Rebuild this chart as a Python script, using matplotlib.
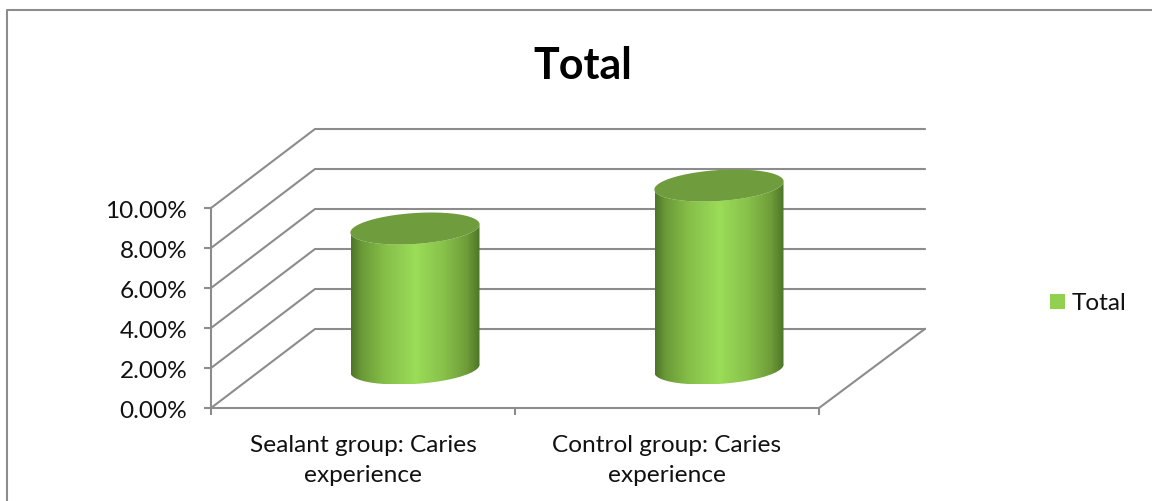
import numpy as np
from matplotlib import pyplot as plt
from matplotlib.patches import PathPatch, Rectangle
from matplotlib.path import Path
from matplotlib.colors import LinearSegmentedColormap

categories = ['Sealant group: Caries\nexperience', 'Control group: Caries\nexperience']
values = [7.0, 9.15]
y_ticks = [0, 2, 4, 6, 8, 10]
series_name = 'Total'

W, H = 1152, 502
GRAY = '#8c8c8c'
# oblique projection of the depth axis, in data units
DEPTH_X = 104 / 304
DEPTH_Y = 79 / 20

plt.rcParams['font.family'] = ['Lato', 'DejaVu Sans']

fig = plt.figure(figsize=(W / 100, H / 100), dpi=100)
ax = fig.add_axes([211 / W, 1 - 409 / H, 608 / W, 200 / H])
ax.set_xlim(0, 2)
ax.set_ylim(0, 10)
ax.patch.set_visible(False)

for s in ['top', 'right']:
    ax.spines[s].set_visible(False)
for s in ['left', 'bottom']:
    ax.spines[s].set_color(GRAY)
    ax.spines[s].set_linewidth(1.5)

ax.set_yticks(y_ticks)
ax.set_yticklabels(['%.2f%%' % v for v in y_ticks], fontsize=17.6, color='#111111')
ax.set_xticks([0, 1, 2])
ax.set_xticklabels([])
ax.set_xticks([0.5, 1.5], categories, minor=True, fontsize=17.6, color='#111111', linespacing=1.5)
ax.tick_params(axis='y', length=5, width=1.5, color=GRAY, pad=12)
ax.tick_params(axis='x', which='major', length=5, width=1.5, color=GRAY)
ax.tick_params(axis='x', which='minor', length=0, pad=19)


def project(x, v, d):
    return x + d * DEPTH_X, v + d * DEPTH_Y


# walls and floor
for v in y_ticks:
    bx, by = project(0, v, 1)
    ex, ey = project(2.006, v, 1)
    ax.plot([0, bx, ex], [v, by, ey], color=GRAY, lw=1.5, clip_on=False, zorder=1)
fx, fy = project(2.006, 0, 1)
ax.plot([2, fx], [0, fy], color=GRAY, lw=1.5, clip_on=False, zorder=1)

# cylinders
HALF_W = 64.5 / 304
U = np.array([HALF_W, 0.25])
V = np.array([-0.013, 0.76])
shade = LinearSegmentedColormap.from_list('shade', [
    (0.0, '#4d7526'), (0.08, '#6a9a38'), (0.25, '#85bc48'), (0.5, '#9bdc58'),
    (0.72, '#88c14a'), (0.9, '#6f9d3a'), (1.0, '#4d7526')])


def ellipse(cx, cy, t):
    return (cx + np.cos(t) * U[0] + np.sin(t) * V[0],
            cy + np.cos(t) * U[1] + np.sin(t) * V[1])


for i, val in enumerate(values):
    cx, cy0 = project(i + 0.5, 0, 0.5)
    cy1 = cy0 + val

    # front half of the base, then back up along the top
    t = np.linspace(np.pi, 2 * np.pi, 80)
    bx, by = ellipse(cx, cy0, t)
    tx, ty = ellipse(cx, cy1, t[::-1])
    body = np.column_stack([np.r_[bx, tx], np.r_[by, ty]])
    patch = PathPatch(Path(np.vstack([body, body[:1]])), fc='none', ec='none', zorder=3, clip_on=False)
    ax.add_patch(patch)
    grad = np.linspace(0, 1, 256).reshape(1, -1)
    im = ax.imshow(grad, cmap=shade, aspect='auto', zorder=3, interpolation='bilinear',
                   extent=[cx - HALF_W, cx + HALF_W, by.min(), cy1 + U[1]])
    im.set_clip_box(fig.bbox)
    im.set_clip_path(patch)

    t = np.linspace(0, 2 * np.pi, 160)
    ex, ey = ellipse(cx, cy1, t)
    ax.fill(ex, ey, color='#6f9c3c', lw=0, zorder=4, clip_on=False)

ax.set_xlim(0, 2)
ax.set_ylim(0, 10)

# chart frame, cut off by the image at right and bottom
fig.add_artist(plt.Line2D([7 / W, 7 / W, 1], [0, 1 - 11 / H, 1 - 11 / H], color=GRAY, lw=1.5))

fig.text(583 / W, 1 - 66 / H, series_name, fontsize=31, fontweight='bold', ha='center', va='center', color='black')

# legend
fig.add_artist(Rectangle((1050 / W, 1 - 310 / H), 15 / W, 15 / H, transform=fig.transFigure, fc='#92d050', ec='none'))
fig.text(1072 / W, 1 - 304 / H, series_name, fontsize=17.6, ha='left', va='center', color='#111111')

fig.savefig('out.png', dpi=100)
